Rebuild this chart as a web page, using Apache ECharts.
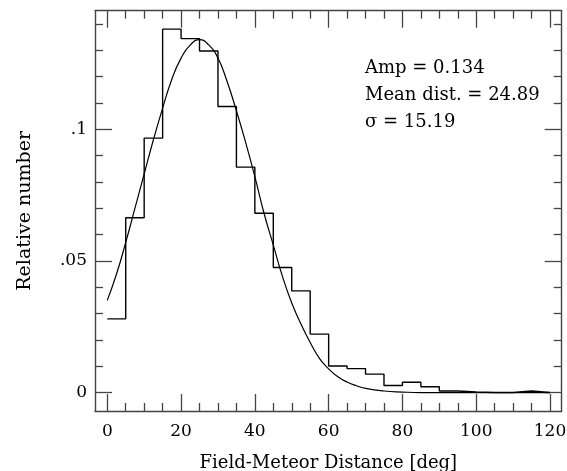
<!DOCTYPE html>
<html>
<head>
	<meta charset="UTF-8">
	<title>Field-Meteor Distance</title>
	<script src="https://cdn.jsdelivr.net/npm/echarts@6/dist/echarts.min.js" type="text/javascript"></script>
	<style>
		html, body { margin: 0; padding: 0; background: #fff; }
		#main { width: 567px; height: 471px; }
	</style>
</head>
<body>
	<div id="main"></div>
<script type="text/javascript">
// histogram: bin start (deg), bin width 5, relative number per bin
var binStart = [0, 5, 10, 15, 20, 25, 30, 35, 40, 45, 50, 55, 60, 65, 70, 75, 80, 85, 90, 95, 100, 105, 110, 115];
var binEnd = 120;
var relNumber = [0.028, 0.0664, 0.0966, 0.138, 0.1344, 0.1297, 0.1086, 0.0856, 0.0681, 0.0475, 0.0386, 0.0222,
	0.0101, 0.0091, 0.0070, 0.0027, 0.0039, 0.0022, 0.0006, 0.0002, 0, 0, 0.0006, 0];

// gaussian fit curve
var fitX = [0, 2.5, 5, 7.5, 10, 12.5, 15, 17.5, 20, 22.5, 25, 27.5, 30, 32.5, 35, 37.5, 40, 42.5, 45, 47.5,
	50, 52.5, 55, 57.5, 60, 62.5, 65, 67.5, 70, 75, 80, 85, 90, 100, 110, 120];
var fitY = [0.035, 0.045, 0.057, 0.070, 0.083, 0.096, 0.108, 0.119, 0.127, 0.132, 0.134, 0.132, 0.127, 0.118,
	0.107, 0.095, 0.082, 0.068, 0.056, 0.044, 0.034, 0.026, 0.019, 0.013, 0.009, 0.006, 0.004, 0.0026, 0.0016,
	0.0006, 0.0002, 0, 0, 0, 0, 0];

var fitText = ['Amp = 0.134', 'Mean dist. = 24.89', 'σ = 15.19'];

var xMajor = [0, 20, 40, 60, 80, 100, 120];
var xMinor = [5, 10, 15, 25, 30, 35, 45, 50, 55, 65, 70, 75, 85, 90, 95, 105, 110, 115];
var yMajor = [0, 0.05, 0.1];
var yMinor = [0.01, 0.02, 0.03, 0.04, 0.06, 0.07, 0.08, 0.09, 0.11, 0.12, 0.13, 0.14];

var font = 'DejaVu Serif';
var ink = '#000';
var frame = '#444';

var histData = [];
for (var i = 0; i < binStart.length; i++) histData.push([binStart[i], relNumber[i]]);
histData.push([binEnd, relNumber[relNumber.length - 1]]);

var fitData = [];
for (var j = 0; j < fitX.length; j++) fitData.push([fitX[j], fitY[j]]);

function xAx(pos, ticks, len, labels, line) {
	return {
		type: 'value', position: pos, min: -3.33, max: 123.17,
		axisLine: { show: line, onZero: false, lineStyle: { color: frame, width: 1.4 } },
		axisTick: { show: true, inside: true, length: len, customValues: ticks, lineStyle: { color: frame, width: 1.3 } },
		axisLabel: { show: labels, customValues: ticks, margin: 12, color: ink, fontFamily: font, fontSize: 17 },
		splitLine: { show: false }
	};
}
function yAx(pos, ticks, len, labels, line) {
	return {
		type: 'value', position: pos, min: -0.007, max: 0.145,
		axisLine: { show: line, onZero: false, lineStyle: { color: frame, width: 1.4 } },
		axisTick: { show: true, inside: true, length: len, customValues: ticks, lineStyle: { color: frame, width: 1.3 } },
		axisLabel: { show: labels, customValues: ticks, margin: 8, color: ink, fontFamily: font, fontSize: 17,
			formatter: function (v) { return v === 0 ? '0' : String(+v.toFixed(3)).replace(/^0/, ''); } },
		splitLine: { show: false }
	};
}

var xs = [xAx('bottom', xMajor, 17, true, true), xAx('bottom', xMinor, 8, false, false),
	xAx('top', xMajor, 17, false, true), xAx('top', xMinor, 8, false, false)];
xs[0].name = 'Field-Meteor Distance [deg]';
xs[0].nameLocation = 'middle';
xs[0].nameGap = 43;
xs[0].nameTextStyle = { color: ink, fontFamily: font, fontSize: 18 };

var ys = [yAx('left', yMajor, 17, true, true), yAx('left', yMinor, 8, false, false),
	yAx('right', yMajor, 17, false, true), yAx('right', yMinor, 8, false, false)];
ys[0].name = 'Relative number';
ys[0].nameLocation = 'middle';
ys[0].nameGap = 60;
ys[0].nameTextStyle = { color: ink, fontFamily: font, fontSize: 19 };

var myChart = echarts.init(document.getElementById('main'), null, { renderer: 'canvas' });
var option = {
	animation: false,
	backgroundColor: '#fff',
	grid: { left: 95, top: 10.7, right: 5.3, bottom: 60, containLabel: false, outerBoundsMode: 'none' },
	xAxis: xs,
	yAxis: ys,
	graphic: [{
		type: 'text', left: 365, top: 55,
		style: { text: fitText.join('\n'), fill: ink, font: '18px "DejaVu Serif"', lineHeight: 27 }
	}],
	series: [
		{
			name: 'hist', type: 'line', step: 'end', data: histData, symbol: 'none',
			lineStyle: { color: ink, width: 1.4 }
		},
		{
			name: 'fit', type: 'line', smooth: true, data: fitData, symbol: 'none',
			lineStyle: { color: ink, width: 1.2 }
		}
	]
};
myChart.setOption(option);
</script>
</body>
</html>
